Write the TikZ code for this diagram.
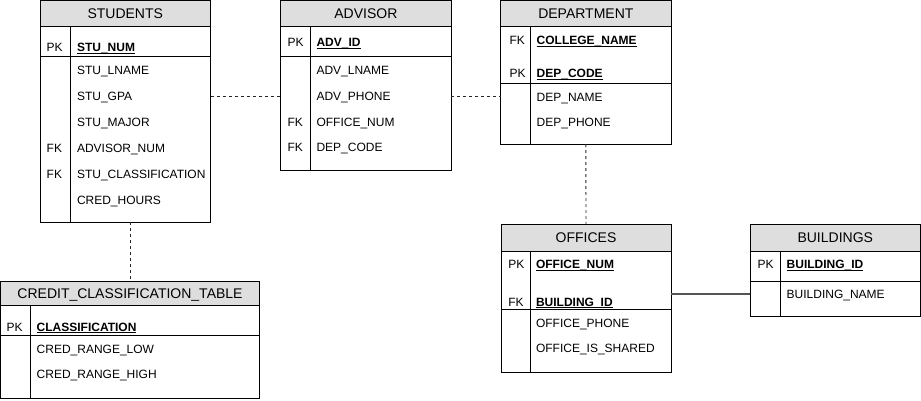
\documentclass[tikz,border=0pt]{standalone}
\usepackage{fontspec}
\setmainfont{Liberation Sans}
\definecolor{hdrgray}{HTML}{DEDEDE}
\definecolor{linkgray}{HTML}{555555}
\newcommand\ukey[1]{\setbox0\hbox{\textbf{#1}}\rlap{\rule[-2.4pt]{\wd0}{1.1pt}}\box0}
\begin{document}
\begin{tikzpicture}[x=1pt,y=-1pt,
  hdr/.style={draw=black, line width=0.9pt, fill=hdrgray, inner sep=0, outer sep=0, anchor=north west,
    font=\fontsize{14}{16}\selectfont, text height=10pt, text depth=0pt},
  sec/.style={draw=black, line width=0.9pt, fill=white, inner sep=0, outer sep=0, anchor=north west},
  divline/.style={draw=black, line width=0.9pt},
  row/.style={anchor=west, inner sep=0, outer sep=0, font=\fontsize{12}{14}\selectfont,
    text height=8.6pt, text depth=0pt},
  dashlink/.style={draw=black!85, line width=0.9pt, dash pattern=on 3pt off 3pt},
  solidlink/.style={draw=linkgray, line width=1.4pt}]
\useasboundingbox (0,0) rectangle (921,400);

% ---------------- STUDENTS
\node[hdr, minimum width=170.5, minimum height=26.2] (stuH) at (40,0.5) {STUDENTS};
\node[sec, minimum width=170.5, minimum height=30] (stuK) at (stuH.south west) {};
\node[sec, minimum width=170.5, minimum height=165.3] (stuB) at (stuK.south west) {};
\draw[divline] ([xshift=30.5pt]stuK.north west) -- ([xshift=30.5pt]stuB.south west);
\node[row] (stuPK) at (46.7,47.5) {PK};
\node[row] (stuNum) at (77,47.5) {\ukey{STU\_NUM}};
\node[row] (stuLname) at (77,70) {STU\_LNAME};
\node[row] (stuGpa) at (77,96) {STU\_GPA};
\node[row] (stuMajor) at (77,122) {STU\_MAJOR};
\node[row] (stuFK1) at (46.7,148) {FK};
\node[row] (stuAdv) at (77,148) {ADVISOR\_NUM};
\node[row] (stuFK2) at (46.7,174) {FK};
\node[row] (stuClass) at (77,174) {STU\_CLASSIFICATION};
\node[row] (stuCred) at (77,200) {CRED\_HOURS};

% ---------------- ADVISOR
\node[hdr, minimum width=170.3, minimum height=25.5] (advH) at (280.7,0.5) {ADVISOR};
\node[sec, minimum width=170.3, minimum height=30.7] (advK) at (advH.south west) {};
\node[sec, minimum width=170.3, minimum height=113.3] (advB) at (advK.south west) {};
\draw[divline] ([xshift=30pt]advK.north west) -- ([xshift=30pt]advB.south west);
\node[row] (advPK) at (287.5,42) {PK};
\node[row] (advId) at (316.5,42) {\ukey{ADV\_ID}};
\node[row] (advLname) at (316.5,70) {ADV\_LNAME};
\node[row] (advPhone) at (316.5,96) {ADV\_PHONE};
\node[row] (advFK1) at (287.5,122) {FK};
\node[row] (advOffice) at (316.5,122) {OFFICE\_NUM};
\node[row] (advFK2) at (287.5,147) {FK};
\node[row] (advDep) at (316.5,147) {DEP\_CODE};

% ---------------- DEPARTMENT
\node[hdr, minimum width=170.3, minimum height=25.5] (depH) at (500.7,0.5) {DEPARTMENT};
\node[sec, minimum width=170.3, minimum height=57] (depK) at (depH.south west) {};
\node[sec, minimum width=170.3, minimum height=61] (depB) at (depK.south west) {};
\draw[divline] ([xshift=29.8pt]depK.north west) -- ([xshift=29.8pt]depB.south west);
\node[row] (depFK) at (509.5,40) {FK};
\node[row] (depCollege) at (536.7,40) {\ukey{COLLEGE\_NAME}};
\node[row] (depPK) at (509.5,73) {PK};
\node[row] (depCode) at (536.7,73) {\ukey{DEP\_CODE}};
\node[row] (depName) at (536.7,97) {DEP\_NAME};
\node[row] (depPhone) at (536.7,122) {DEP\_PHONE};

% ---------------- OFFICES
\node[hdr, minimum width=170, minimum height=26.5] (offH) at (501,224.5) {OFFICES};
\node[sec, minimum width=170, minimum height=58] (offK) at (offH.south west) {};
\node[sec, minimum width=170, minimum height=63.5] (offB) at (offK.south west) {};
\draw[divline] ([xshift=29.7pt]offK.north west) -- ([xshift=29.7pt]offB.south west);
\node[row] (offPK) at (508.3,264) {PK};
\node[row] (offNum) at (536,264) {\ukey{OFFICE\_NUM}};
\node[row] (offFK) at (508.3,301.7) {FK};
\node[row] (offBld) at (536,301.7) {\ukey{BUILDING\_ID}};
\node[row] (offPhone) at (536,323) {OFFICE\_PHONE};
\node[row] (offShared) at (536,348) {OFFICE\_IS\_SHARED};

% ---------------- BUILDINGS
\node[hdr, minimum width=170.5, minimum height=26.5] (bldH) at (750,224.5) {BUILDINGS};
\node[sec, minimum width=170.5, minimum height=30] (bldK) at (bldH.south west) {};
\node[sec, minimum width=170.5, minimum height=35.7] (bldB) at (bldK.south west) {};
\draw[divline] ([xshift=30pt]bldK.north west) -- ([xshift=30pt]bldB.south west);
\node[row] (bldPK) at (757.7,264) {PK};
\node[row] (bldId) at (786.7,264) {\ukey{BUILDING\_ID}};
\node[row] (bldName) at (786.7,294) {BUILDING\_NAME};

% ---------------- CREDIT_CLASSIFICATION_TABLE
\node[hdr, minimum width=259, minimum height=24] (crdH) at (0.5,281) {CREDIT\_CLASSIFICATION\_TABLE};
\node[sec, minimum width=259, minimum height=30.7] (crdK) at (crdH.south west) {};
\node[sec, minimum width=259, minimum height=62.8] (crdB) at (crdK.south west) {};
\draw[divline] ([xshift=30.2pt]crdK.north west) -- ([xshift=30.2pt]crdB.south west);
\node[row] (crdPK) at (6.5,326.7) {PK};
\node[row] (crdClass) at (36.7,326.7) {\ukey{CLASSIFICATION}};
\node[row] (crdLow) at (36.7,349) {CRED\_RANGE\_LOW};
\node[row] (crdHigh) at (36.7,374) {CRED\_RANGE\_HIGH};

% ---------------- connectors
\draw[dashlink] (stuB.east |- stuGpa) -- (advB.west |- stuGpa);
\draw[dashlink] (advB.east |- advPhone) -- (depB.west |- advPhone);
\draw[dashlink] (depB.south) -- (offH.north);
\draw[dashlink] (crdH.north |- stuB.south) -- (crdH.north);
\draw[solidlink] (offK.east |- bldName) -- (bldB.west |- bldName);
\end{tikzpicture}
\end{document}
